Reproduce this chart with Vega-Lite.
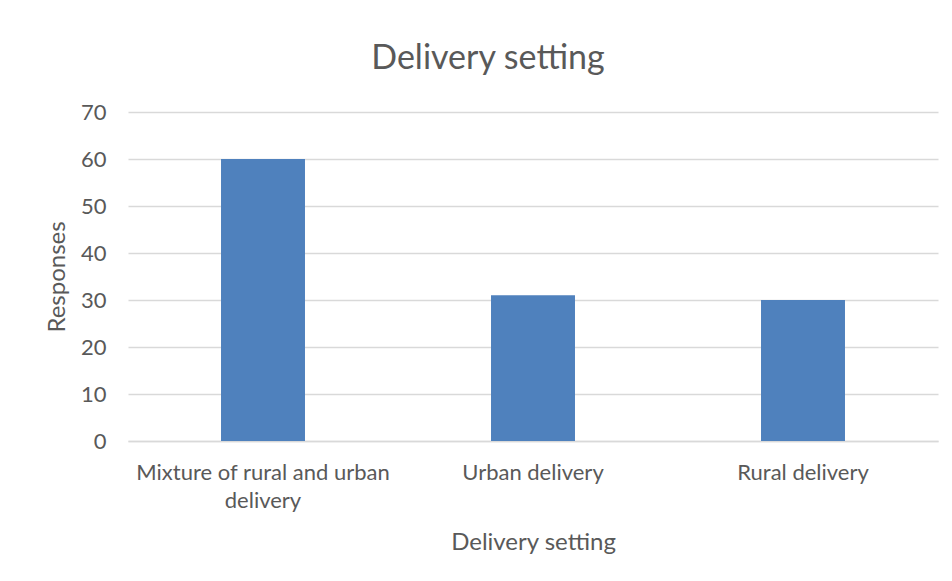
{
  "$schema": "https://vega.github.io/schema/vega-lite/v6.json",
  "autosize": {"type": "none"},
  "width": 810,
  "height": 329,
  "padding": {"left": 128, "top": 112, "right": 14, "bottom": 140},
  "background": "white",
  "title": {
    "text": "Delivery setting",
    "anchor": "middle",
    "dx": -45,
    "offset": 25,
    "font": "Lato",
    "fontSize": 34,
    "fontWeight": "normal",
    "color": "#595959"
  },
  "data": {
    "values": [
      {"setting": "Mixture of rural and urban delivery", "responses": 60},
      {"setting": "Urban delivery", "responses": 31},
      {"setting": "Rural delivery", "responses": 30}
    ]
  },
  "mark": {"type": "bar", "color": "#4F81BD"},
  "encoding": {
    "x": {
      "field": "setting",
      "type": "nominal",
      "sort": null,
      "scale": {"paddingInner": 0.689, "paddingOuter": 0.3445},
      "axis": {
        "title": "Delivery setting",
        "labelAngle": 0,
        "labelLimit": 0,
        "labelExpr": "datum.label == 'Mixture of rural and urban delivery' ? ['Mixture of rural and urban', 'delivery'] : datum.label",
        "labelLineHeight": 28,
        "labelPadding": 21,
        "ticks": false,
        "domainColor": "#d9d9d9",
        "domainWidth": 1.5,
        "titlePadding": 19
      }
    },
    "y": {
      "field": "responses",
      "type": "quantitative",
      "scale": {"domain": [0, 70]},
      "axis": {
        "title": "Responses",
        "values": [0, 10, 20, 30, 40, 50, 60, 70],
        "ticks": false,
        "domain": false,
        "labelPadding": 22,
        "gridColor": "#d9d9d9",
        "gridWidth": 1.5,
        "titlePadding": 11
      }
    }
  },
  "config": {
    "view": {"stroke": null},
    "axis": {
      "labelFont": "Lato",
      "labelFontSize": 22,
      "labelColor": "#595959",
      "titleFont": "Lato",
      "titleFontSize": 24,
      "titleFontWeight": "normal",
      "titleColor": "#595959"
    }
  }
}
